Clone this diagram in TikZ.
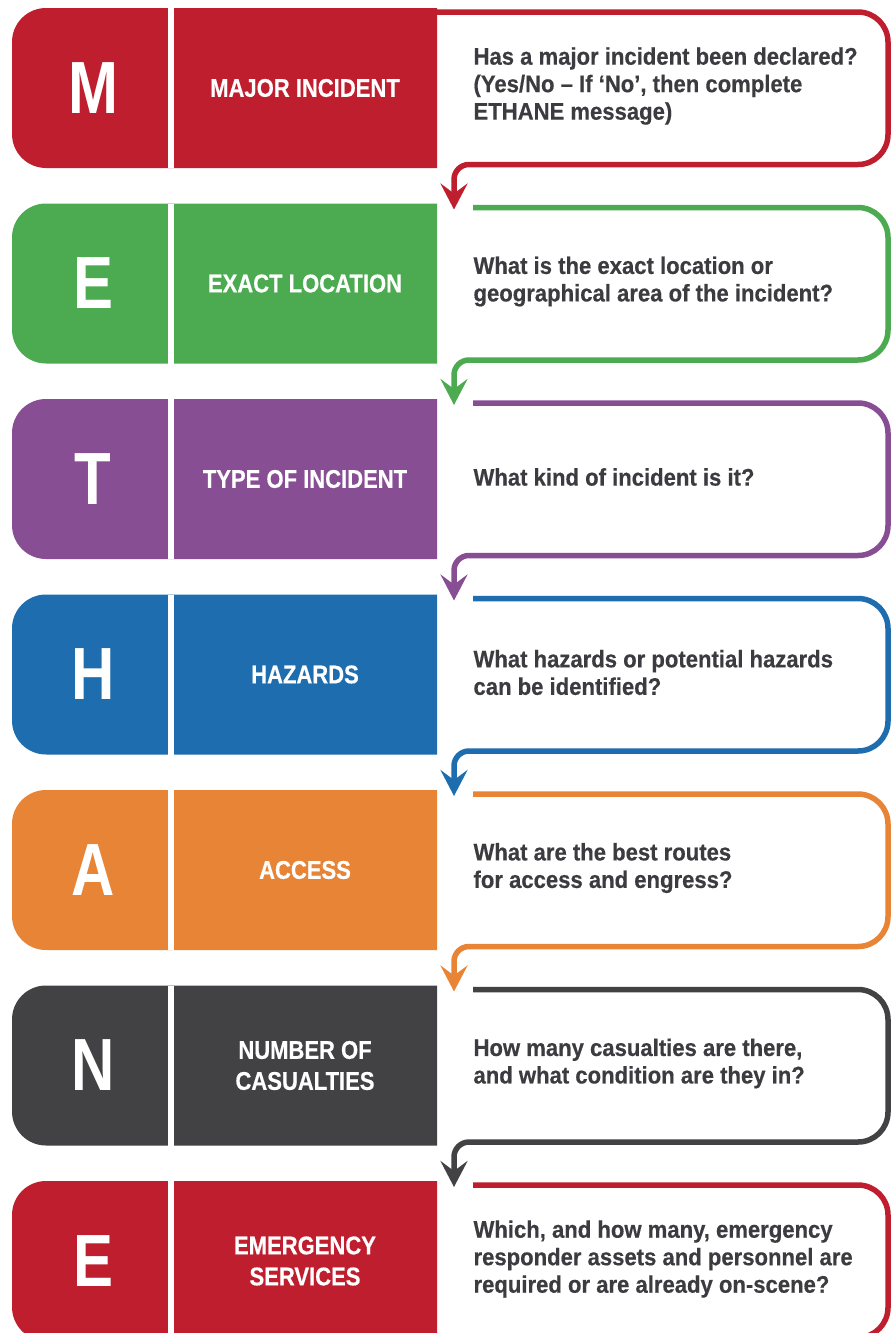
\documentclass[tikz,border=0pt]{standalone}
\usepackage{fontspec}
\usepackage{xcolor}
\usetikzlibrary{arrows.meta}
\setmainfont{Liberation Sans}
\newfontfamily\ltrfont[FakeStretch=0.81]{Liberation Sans}
\newfontfamily\labfont[FakeStretch=0.86,FakeBold=0.4]{Liberation Sans}
\newfontfamily\descfont[FakeStretch=0.92,FakeBold=0.4]{Liberation Sans}
\definecolor{mired}{RGB}{190, 30, 45}
\definecolor{migreen}{RGB}{76, 170, 80}
\definecolor{mipurple}{RGB}{136, 78, 148}
\definecolor{miblue}{RGB}{30, 110, 175}
\definecolor{miorange}{RGB}{232, 132, 54}
\definecolor{migrey}{RGB}{66, 66, 68}
\definecolor{txtgrey}{RGB}{60, 60, 64}

\begin{document}
\begin{tikzpicture}[x=1pt,y=-1pt,
    ltr/.style={text=white,font=\ltrfont\bfseries\fontsize{74}{80}\selectfont},
    lab/.style={text=white,align=center,font=\labfont\bfseries\fontsize{25.6}{31}\selectfont},
    desc/.style={text=txtgrey,align=left,anchor=west,font=\descfont\bfseries\fontsize{24}{27.5}\selectfont},
    frame/.style={draw=#1,line width=5.5pt,line join=round}]
        % Page and margins
        \fill[white] (0,0) rectangle (895,1333);
        \useasboundingbox (0,0) rectangle (895,1333);

        % One row for each letter of METHANE
        \foreach \i/\ltr/\lab/\desc/\col in {
            0/M/{MAJOR INCIDENT}/{Has a major incident been declared?\\(Yes/No – If ‘No’, then complete\\ETHANE message)}/mired,
            1/E/{EXACT LOCATION}/{What is the exact location or\\geographical area of the incident?}/migreen,
            2/T/{TYPE OF INCIDENT}/{What kind of incident is it?}/mipurple,
            3/H/{HAZARDS}/{What hazards or potential hazards\\can be identified?}/miblue,
            4/A/{ACCESS}/{What are the best routes\\for access and engress?}/miorange,
            5/N/{NUMBER OF\\CASUALTIES}/{How many casualties are there,\\and what condition are they in?}/migrey,
            6/E/{EMERGENCY\\SERVICES}/{Which, and how many, emergency\\responder assets and personnel are\\required or are already on-scene?}/mired} {
            \pgfmathsetmacro{\yt}{8+195.5*\i}
            \pgfmathsetmacro{\yb}{\yt+160}
            \pgfmathsetmacro{\ym}{\yt+80}
            \pgfmathsetmacro{\xs}{\i==0 ? 437 : 473}

            % Coloured block, rounded on the left
            \fill[\col] (437,\yt) -- (437,\yb) [rounded corners=34] -- (12,\yb) -- (12,\yt) [sharp corners] -- cycle;
            \fill[white] (168,\yt) rectangle (174,\yb);

            % Outline of the question box, running into the next row
            \coordinate (in\i) at (\xs,\yt+4);
            \ifnum\i<6
                \coordinate (tip\i) at (454,\yt+201.5);
                \draw[frame=\col,-{Stealth[length=26pt,width=27pt,inset=10pt]}] (in\i) [rounded corners=30] -- (888,\yt+4) -- (888,\yb-3.5) [rounded corners=15] -- (454,\yb-3.5) -- (tip\i);
            \else
                \coordinate (out\i) at (437,\yb-3.5);
                \draw[frame=\col] (in\i) [rounded corners=30] -- (888,\yt+4) -- (888,\yb-3.5) [sharp corners] -- (out\i);
            \fi

            % Texts
            \node[ltr] (ltr\i) at (93,\ym) {\ltr};
            \node[lab] (lab\i) at (305,\ym) {\lab};
            \node[desc] (desc\i) at (470,\ym-2) {\desc};
        }
    \end{tikzpicture}
\end{document}
